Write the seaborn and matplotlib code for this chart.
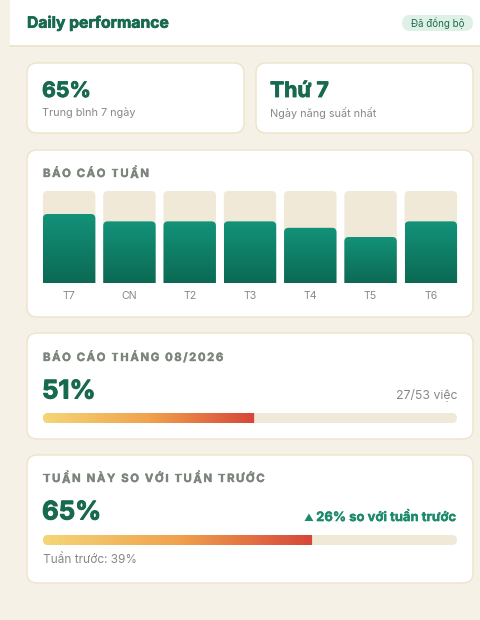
import numpy as np
import matplotlib
matplotlib.use("Agg")
import matplotlib.pyplot as plt
import matplotlib.patheffects as pe
import seaborn as sns
from matplotlib.patches import FancyBboxPatch, PathPatch, Rectangle
from matplotlib.path import Path
from matplotlib.colors import LinearSegmentedColormap

# data
days = ["T7", "CN", "T2", "T3", "T4", "T5", "T6"]
day_values = [75, 67, 67, 67, 60, 50, 67]
avg_7_days = 65
best_day = "Thứ 7"
month_label = "08/2026"
month_done = 27
month_total = 53
month_pct = 51
week_pct = 65
last_week_pct = 39
week_delta = 26

BG = "#f5f1e6"
BORDER = "#ece3cb"
GREEN = "#17694f"
GRAY = "#7c857b"
SUBGRAY = "#858a84"
TRACK = "#f1e9d8"


def thick(color, lw=0.9):
    # Inter bold renders a bit light, fatten it with a stroke
    return [pe.withStroke(linewidth=lw, foreground=color)]


sns.set_theme(style="white")
plt.rcParams["font.family"] = ["Inter", "DejaVu Sans"]

fig = plt.figure(figsize=(4.8, 6.2), dpi=100, facecolor=BG)
ax = fig.add_axes([0, 0, 1, 1])
ax.set_xlim(0, 480)
ax.set_ylim(620, 0)
ax.axis("off")
renderer = fig.canvas.get_renderer()


def card(x0, y0, x1, y1):
    ax.add_patch(FancyBboxPatch((x0, y0), x1 - x0, y1 - y0,
                                boxstyle="round,pad=0,rounding_size=10",
                                fc="white", ec=BORDER, lw=1.0, zorder=1))


def spaced_text(x, y, s, spacing=1.55, **kw):
    # draw char by char to get the wide letter spacing
    for ch in s:
        t = ax.text(x, y, ch, va="center", ha="left", zorder=5,
                    path_effects=thick(GRAY, 0.25), **kw)
        w = t.get_window_extent(renderer).width
        x += w + spacing


def top_rounded(x, y0, w, h, rx, ry):
    verts = [(x, y0), (x, y0 + h - ry), (x, y0 + h), (x + rx, y0 + h),
             (x + w - rx, y0 + h), (x + w, y0 + h), (x + w, y0 + h - ry),
             (x + w, y0), (x, y0)]
    codes = [Path.MOVETO, Path.LINETO, Path.CURVE3, Path.CURVE3,
             Path.LINETO, Path.CURVE3, Path.CURVE3, Path.LINETO, Path.CLOSEPOLY]
    return Path(verts, codes)


def left_rounded(x, y0, w, h, rx, ry):
    verts = [(x + w, y0), (x + rx, y0), (x, y0), (x, y0 + ry),
             (x, y0 + h - ry), (x, y0 + h), (x + rx, y0 + h),
             (x + w, y0 + h), (x + w, y0)]
    codes = [Path.MOVETO, Path.LINETO, Path.CURVE3, Path.CURVE3,
             Path.LINETO, Path.CURVE3, Path.CURVE3, Path.LINETO, Path.CLOSEPOLY]
    return Path(verts, codes)


# header strip
ax.add_patch(Rectangle((10, 0), 470, 46, fc="white", ec="none", zorder=1))
ax.plot([10, 480], [46, 46], color="#ebe1c8", lw=1.2, zorder=2)
ax.text(27, 23, "Daily performance", fontsize=11.3, fontweight="bold",
        color=GREEN, va="center", ha="left", zorder=5, path_effects=thick(GREEN, 0.45))
ax.add_patch(FancyBboxPatch((402, 15), 71, 16, boxstyle="round,pad=0,rounding_size=8",
                            fc="#dff1e7", ec="none", zorder=3))
ax.text(437.5, 23.5, "Đã đồng bộ", fontsize=7.0, color="#1f6a51",
        va="center", ha="center", zorder=5)

# summary cards
card(27, 63, 244, 133)
card(256, 63, 473, 133)
ax.text(42, 91, f"{avg_7_days}%", fontsize=15.3, fontweight="bold", color=GREEN,
        va="center", ha="left", zorder=5, path_effects=thick(GREEN, 0.6))
ax.text(42, 113, "Trung bình 7 ngày", fontsize=7.8, color=SUBGRAY,
        va="center", ha="left", zorder=5)
ax.text(270, 91, best_day, fontsize=15.3, fontweight="bold", color=GREEN,
        va="center", ha="left", zorder=5, path_effects=thick(GREEN, 0.6))
ax.text(270, 113, "Ngày năng suất nhất", fontsize=7.8, color=SUBGRAY,
        va="center", ha="left", zorder=5)

# weekly report
card(27, 150, 473, 317)
spaced_text(43, 174, "BÁO CÁO TUẦN", fontsize=8.2, fontweight="bold", color=GRAY)

bax = fig.add_axes([39 / 480, 1 - 283 / 620, 422 / 480, 92 / 620])
bax.set_facecolor("none")
sns.barplot(x=days, y=[100] * len(days), color=TRACK, width=0.87, ax=bax)
sns.barplot(x=days, y=day_values, color="#11876c", width=0.87, ax=bax)
bax.set_xlim(-0.5, len(days) - 0.5)
bax.set_ylim(0, 100)
bax.axis("off")

px_x = 422 / len(days)   # px per x unit
px_y = 92 / 100          # px per y unit
green_cmap = LinearSegmentedColormap.from_list("g", ["#0c6953", "#13937a"])
grad = np.linspace(0, 1, 256).reshape(-1, 1)
for i, p in enumerate(bax.patches):
    x, y0, w, h = p.get_x(), p.get_y(), p.get_width(), p.get_height()
    p.set_visible(False)
    path = top_rounded(x, y0, w, h, 4.5 / px_x, 4.5 / px_y)
    if i < len(days):
        bax.add_patch(PathPatch(path, fc=TRACK, ec="none", zorder=1))
    else:
        clip = PathPatch(path, fc="none", ec="none")
        bax.add_patch(clip)
        im = bax.imshow(grad, cmap=green_cmap, origin="lower", aspect="auto",
                        extent=(x, x + w, y0, y0 + h), zorder=2)
        im.set_clip_path(clip)
bax.set_xlim(-0.5, len(days) - 0.5)
bax.set_ylim(0, 100)
for i, d in enumerate(days):
    cx = bax.transData.transform((i, 0))[0]
    ax.text(cx, 296, d, fontsize=7.6, color=SUBGRAY, va="center", ha="center", zorder=5)

heat_cmap = LinearSegmentedColormap.from_list(
    "h", [(0, "#f5d677"), (0.5, "#f0a24d"), (1, "#d6463a")])


def progress(y_top, pct):
    pax = fig.add_axes([43 / 480, 1 - (y_top + 10) / 620, 414 / 480, 10 / 620])
    pax.set_facecolor("none")
    sns.barplot(x=[100], y=["a"], color=TRACK, width=1.0, ax=pax, orient="h")
    sns.barplot(x=[pct], y=["a"], color="#f0a24d", width=1.0, ax=pax, orient="h")
    pax.set_xlim(0, 100)
    pax.set_ylim(0.5, -0.5)
    pax.axis("off")
    rx = 5 / 4.14
    for j, p in enumerate(pax.patches):
        x, y0, w, h = p.get_x(), p.get_y(), p.get_width(), p.get_height()
        p.set_visible(False)
        if j == 0:
            pax.add_patch(FancyBboxPatch((x, y0), w, h,
                                         boxstyle=f"round,pad=0,rounding_size={rx}",
                                         mutation_aspect=0.5 / rx,
                                         fc=TRACK, ec="none", zorder=1))
        else:
            clip = PathPatch(left_rounded(x, y0, w, h, rx, 0.5), fc="none", ec="none")
            pax.add_patch(clip)
            im = pax.imshow(np.linspace(0, 1, 256).reshape(1, -1), cmap=heat_cmap,
                            aspect="auto", extent=(x, x + w, y0 + h, y0), zorder=2)
            im.set_clip_path(clip)
    pax.set_xlim(0, 100)
    pax.set_ylim(0.5, -0.5)


# month report
card(27, 333, 473, 439)
spaced_text(43, 358, f"BÁO CÁO THÁNG {month_label}", fontsize=8.2, fontweight="bold", color=GRAY)
ax.text(42, 392, f"{month_pct}%", fontsize=18.5, fontweight="bold", color=GREEN,
        va="center", ha="left", zorder=5, path_effects=thick(GREEN, 0.7))
ax.text(457, 396, f"{month_done}/{month_total} việc", fontsize=8.8, color=SUBGRAY,
        va="center", ha="right", zorder=5)
progress(413, month_pct)

# week vs last week
card(27, 455, 473, 583)
spaced_text(43, 479, "TUẦN NÀY SO VỚI TUẦN TRƯỚC", fontsize=8.2, fontweight="bold", color=GRAY)
ax.text(42, 513, f"{week_pct}%", fontsize=18.5, fontweight="bold", color=GREEN,
        va="center", ha="left", zorder=5, path_effects=thick(GREEN, 0.7))
delta = ax.text(456.5, 518, f"{week_delta}% so với tuần trước", fontsize=9.4, fontweight="bold",
                color="#1a8a6a", va="center", ha="right", zorder=5,
                path_effects=thick("#1a8a6a", 0.25))
left = ax.transData.inverted().transform(delta.get_window_extent(renderer))[0][0]
ax.text(left - 3, 518, "▲", fontsize=7, color="#1a8a6a", va="center", ha="right", zorder=5)
progress(535, week_pct)
ax.text(43, 560, f"Tuần trước: {last_week_pct}%", fontsize=8.5, color=SUBGRAY,
        va="center", ha="left", zorder=5)

fig.savefig("out.png", dpi=100, facecolor=BG)
